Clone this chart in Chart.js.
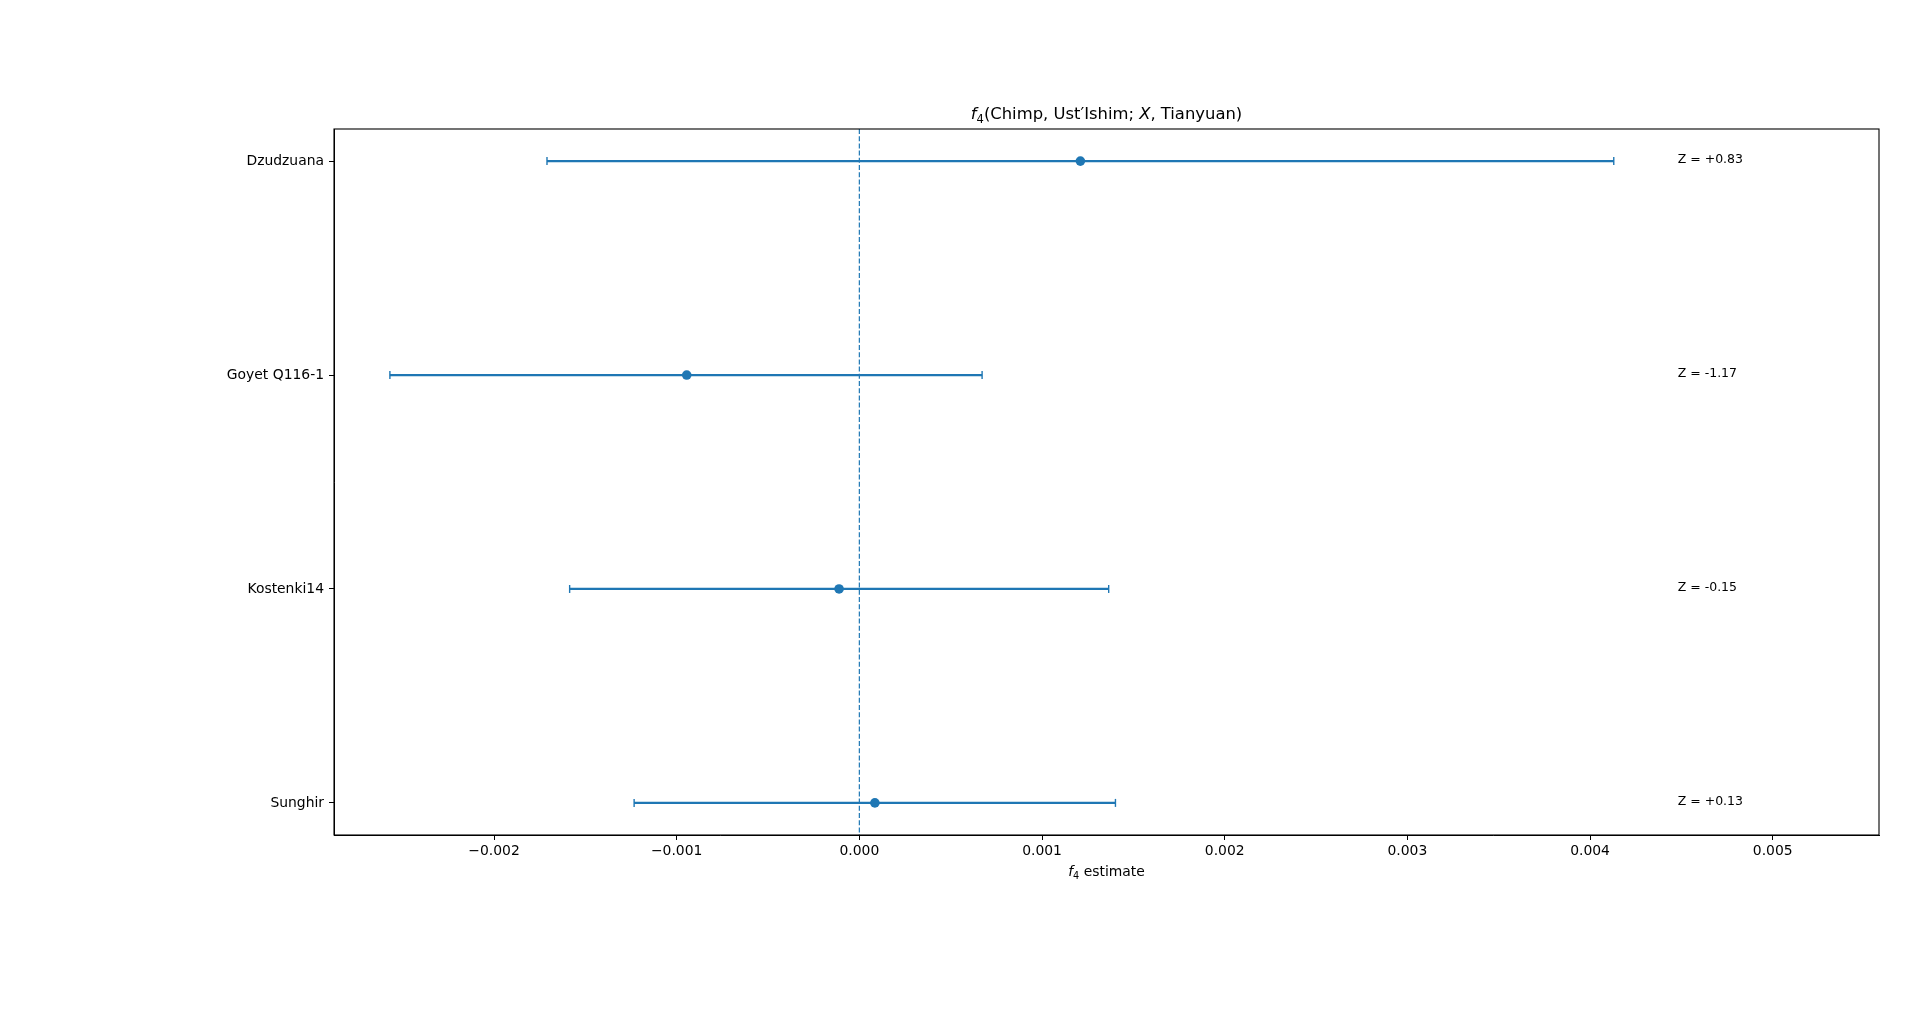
<!DOCTYPE html>
<html>
<head>
<meta charset="utf-8">
<script src="https://cdn.jsdelivr.net/npm/chart.js@4.4.1/dist/chart.umd.min.js"></script>
<style>
  html, body { margin: 0; padding: 0; background: #fff; }
  #wrap { width: 1920px; height: 1034px; position: relative; }
</style>
</head>
<body>
<div id="wrap"><canvas id="chart"></canvas></div>
<script>
// rows, top to bottom
const populations = ["Dzudzuana", "Goyet Q116-1", "Kostenki14", "Sunghir"];
const estimates = [0.00121, -0.000945, -0.000111, 0.000085];
const ciLow = [-0.00171, -0.00257, -0.001586, -0.001233];
const ciHigh = [0.00413, 0.000672, 0.001365, 0.001402];
const zLabels = ["Z = +0.83", "Z = -1.17", "Z = -0.15", "Z = +0.13"];
const xTicks = [-0.002, -0.001, 0.0, 0.001, 0.002, 0.003, 0.004, 0.005];

const BLUE = "#1f77b4";
const FONT = "'DejaVu Sans', sans-serif";
const X_MIN = -0.002876, X_MAX = 0.005582;
const Y_MIN = -0.15, Y_MAX = 3.15;
const Z_X = 0.00448;

// one line dataset per error bar, caps drawn as rotated "line" points
const barSets = populations.map((name, i) => ({
  type: "line",
  label: name + " CI",
  data: [{ x: ciLow[i], y: i }, { x: ciHigh[i], y: i }],
  borderColor: BLUE,
  borderWidth: 2.2,
  pointStyle: "line",
  rotation: 90,
  pointRadius: 4,
  pointBorderWidth: 1.4,
  pointBorderColor: BLUE,
  fill: false,
  order: 2,
}));

const zeroLine = {
  type: "line",
  label: "zero",
  data: [{ x: 0, y: Y_MIN }, { x: 0, y: Y_MAX }],
  borderColor: BLUE,
  borderWidth: 1.2,
  borderDash: [5, 2.2],
  pointRadius: 0,
  fill: false,
  order: 3,
};

const points = {
  type: "scatter",
  label: "estimate",
  data: estimates.map((v, i) => ({ x: v, y: i })),
  backgroundColor: BLUE,
  borderColor: BLUE,
  pointRadius: 4.8,
  pointBorderWidth: 0,
  order: 1,
};

// frame, Z labels, title and axis label with the f4 subscript
const decor = {
  id: "decor",
  afterDatasetsDraw(chart) {
    const { ctx, chartArea: a, scales } = chart;
    ctx.save();
    ctx.strokeStyle = "#000";
    ctx.lineWidth = 1.1;
    ctx.strokeRect(a.left, a.top, a.right - a.left, a.bottom - a.top);

    ctx.fillStyle = "#000";
    ctx.font = "12.5px " + FONT;
    ctx.textAlign = "left";
    ctx.textBaseline = "middle";
    zLabels.forEach((t, i) => {
      ctx.fillText(t, scales.x.getPixelForValue(Z_X), scales.y.getPixelForValue(i) - 1);
    });

    const cx = (a.left + a.right) / 2;
    this.drawPieces(ctx, cx, 119, [
      ["italic", 16.4, "f", 0],
      ["normal", 11.5, "4", 3.5],
      ["normal", 16.4, "(Chimp, Ust\u2032Ishim; ", 0],
      ["italic", 16.4, "X", 0],
      ["normal", 16.4, ", Tianyuan)", 0],
    ]);
    this.drawPieces(ctx, cx, 876, [
      ["italic", 13.9, "f", 0],
      ["normal", 9.7, "4", 2.8],
      ["normal", 13.9, " estimate", 0],
    ]);
    ctx.restore();
  },
  drawPieces(ctx, cx, baseline, pieces) {
    ctx.textAlign = "left";
    ctx.textBaseline = "alphabetic";
    let total = 0;
    const widths = pieces.map(([style, size, text]) => {
      ctx.font = style + " " + size + "px " + FONT;
      const w = ctx.measureText(text).width;
      total += w;
      return w;
    });
    let x = cx - total / 2;
    pieces.forEach(([style, size, text, drop], i) => {
      ctx.font = style + " " + size + "px " + FONT;
      ctx.fillText(text, x, baseline + drop);
      x += widths[i];
    });
  },
};

const fmt = (v) => {
  const s = Math.abs(v).toFixed(3);
  return v < -1e-12 ? "\u2212" + s : s;
};

new Chart(document.getElementById("chart"), {
  data: { datasets: [zeroLine, ...barSets, points] },
  options: {
    responsive: true,
    maintainAspectRatio: false,
    animation: false,
    events: [],
    layout: { padding: { top: 129, right: 41, bottom: 0, left: 0 } },
    plugins: {
      legend: { display: false },
      tooltip: { enabled: false },
      title: { display: false },
    },
    scales: {
      x: {
        type: "linear",
        min: X_MIN,
        max: X_MAX,
        afterBuildTicks: (s) => { s.ticks = xTicks.map((v) => ({ value: v })); },
        afterFit: (s) => { s.height = 199; },
        ticks: {
          callback: (v) => fmt(v),
          color: "#000",
          font: { family: FONT, size: 13.9 },
          padding: 3,
          maxRotation: 0,
          autoSkip: false,
        },
        grid: { drawOnChartArea: false, tickLength: 5, color: "#000", lineWidth: 1 },
        border: { display: true, color: "#000", width: 1 },
      },
      y: {
        type: "linear",
        reverse: true,
        min: Y_MIN,
        max: Y_MAX,
        afterBuildTicks: (s) => { s.ticks = populations.map((_, i) => ({ value: i })); },
        afterFit: (s) => { s.width = 334; },
        ticks: {
          callback: (v) => populations[v] ?? "",
          color: "#000",
          font: { family: FONT, size: 13.9 },
          padding: 5,
          autoSkip: false,
        },
        grid: { drawOnChartArea: false, tickLength: 5, color: "#000", lineWidth: 1 },
        border: { display: true, color: "#000", width: 1 },
      },
    },
  },
  plugins: [decor],
});
</script>
</body>
</html>
